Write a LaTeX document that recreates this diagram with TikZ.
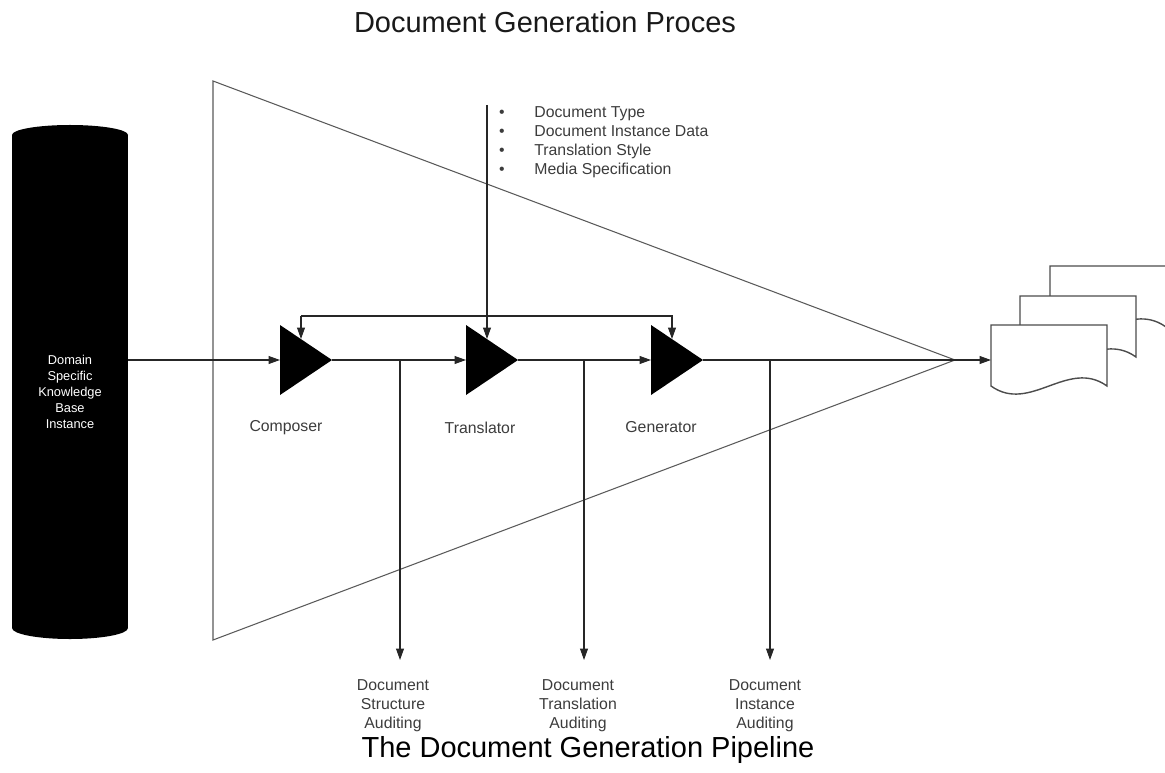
\documentclass[tikz,border=0pt]{standalone}
\usepackage{fontspec}
\setmainfont{Liberation Sans}
\usetikzlibrary{arrows.meta}
\definecolor{txtgray}{HTML}{3C3C3C}
\tikzset{
  flow/.style={draw=black!85, line width=0.6pt, -{Triangle[length=6.5pt,width=4.5pt]}},
  lbl/.style={text=txtgray, font=\fontsize{9}{10.8}\selectfont, align=center},
  docsheet/.style={draw=black!70, line width=0.8pt, fill=white},
}
\begin{document}
\begin{tikzpicture}[x=0.02cm, y=-0.02cm]
\useasboundingbox (0,0) rectangle (1165,773);

% titles
\node (title) [text=black!90] at (545,22) {\fontsize{16.5}{20}\selectfont Document Generation Proces};
\node (caption) [anchor=base, inner sep=0pt] at (588,757) {\fontsize{16.5}{20}\selectfont The Document Generation Pipeline};

% knowledge base
\fill (12,135) rectangle (128,628);
\fill (70,135) ellipse [x radius=58, y radius=10];
\fill (70,628) ellipse [x radius=58, y radius=11];
\node (kb) [text=white, align=center, font=\fontsize{7.3}{9}\selectfont] at (70,392) {Domain\\Specific\\Knowledge\\Base\\Instance};
\coordinate (kbout) at (128,360);

% funnel
\draw[black!65, line width=0.6pt] (213,81) -- (955,360) -- (213,640) -- cycle;

% stages
\foreach \s/\x in {comp/280, trans/466, gen/651} {
  \fill (\x,325) -- (\x+52,360) -- (\x,395) -- cycle;
  \coordinate (\s-in) at (\x,360);
  \coordinate (\s-out) at (\x+52,360);
  \coordinate (\s-top) at (\x+21,339);
}
\node[lbl] (comp-lbl) at (286,428) {Composer};
\node[lbl] (trans-lbl) at (480,428) {Translator};
\node[lbl] (gen-lbl) at (661,427) {Generator};

% main flow
\coordinate (docin) at (991,360);
\draw[flow] (kbout) -- (comp-in);
\draw[flow] (comp-out) -- (trans-in);
\draw[flow] (trans-out) -- (gen-in);
\draw[flow] (gen-out) -- (docin);

% feedback
\coordinate (fbl) at (301,316);
\coordinate (fbr) at (672,316);
\draw[flow] (fbl) -- (comp-top);
\draw[flow] (fbl) -- (fbr) -- (gen-top);

% specification input
\coordinate (spec) at (487,105);
\draw[flow] (spec) -- (trans-top);
\foreach \txt [count=\i] in {Document Type, Document Instance Data, Translation Style, Media Specification} {
  \node[lbl, anchor=base, inner sep=0pt] (bul\i) at (502,{99+19*\i}) {\textbullet};
  \node[lbl, anchor=base west, inner sep=0pt] (spec\i) at (534,{99+19*\i}) {\txt};
}

% auditing taps
\foreach \i/\x in {1/400, 2/584, 3/770} {
  \coordinate (tap\i) at (\x,360);
  \coordinate (tapend\i) at (\x,660);
  \draw[flow] (tap\i) -- (tapend\i);
}
\node[lbl, inner sep=0pt] (aud1) at (393,706) {Document\\Structure\\Auditing};
\node[lbl, inner sep=0pt] (aud2) at (578,706) {Document\\Translation\\Auditing};
\node[lbl, inner sep=0pt] (aud3) at (765,706) {Document\\Instance\\Auditing};

% output documents
\begin{scope}
\clip (0,0) rectangle (1165,773);
\foreach \x/\y in {1050/266, 1020/296, 991/325}
  \draw[docsheet] (\x,\y) -- (\x+116,\y) -- (\x+116,\y+61) .. controls (\x+77,\y+33) and (\x+39,\y+89) .. (\x,\y+61) -- cycle;
\end{scope}
\end{tikzpicture}
\end{document}
